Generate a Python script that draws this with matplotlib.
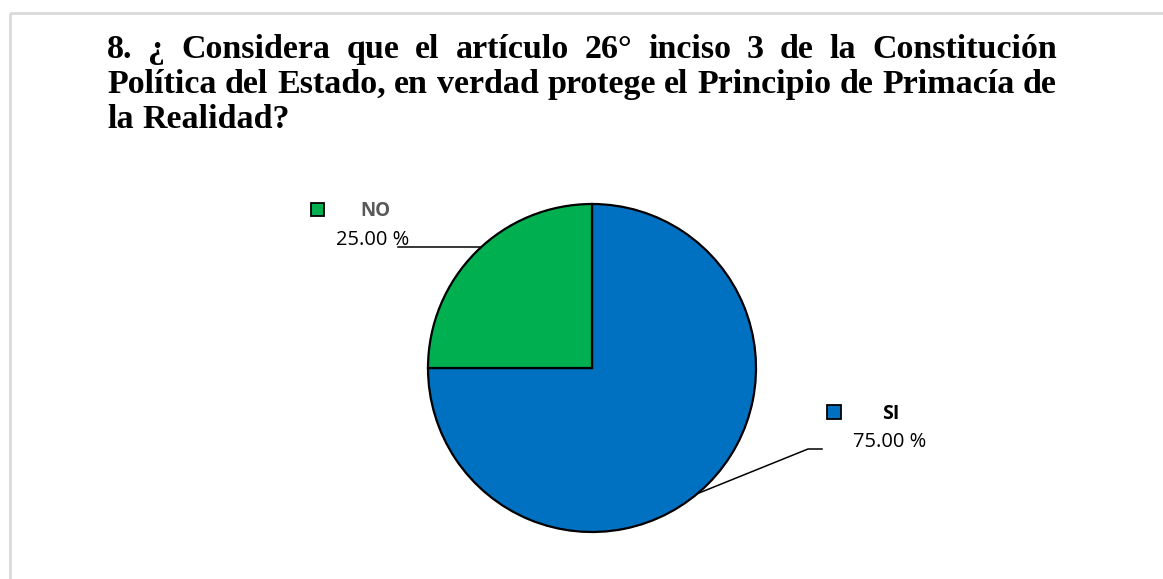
import matplotlib
matplotlib.use("Agg")
import matplotlib.pyplot as plt
import numpy as np

# data
categories = ["SI", "NO"]
values = [75.0, 25.0]
pct_labels = ["75.00 %", "25.00 %"]
colors = ["#0070C0", "#00B050"]
title_lines = [
    "8. ¿ Considera que el artículo 26° inciso 3 de la Constitución",
    "Política del Estado, en verdad protege el Principio de Primacía de",
    "la Realidad?",
]

W, H = 1163, 579


def fx(px):
    return px / W


def fy(py):
    return 1 - py / H


fig = plt.figure(figsize=(W / 100, H / 100), dpi=100)
fig.patch.set_facecolor("white")

# overlay in pixel coordinates for text and leader lines
ov = fig.add_axes([0, 0, 1, 1])
ov.set_xlim(0, W)
ov.set_ylim(H, 0)
ov.axis("off")

# light frame (top and left edge visible)
ov.plot([9.5, W], [12.5, 12.5], color="#d9d9d9", lw=2, solid_capstyle="butt")
ov.plot([9.5, 9.5], [12.5, H], color="#d9d9d9", lw=2, solid_capstyle="butt")

# title, justified
renderer = fig.canvas.get_renderer()
x0, x1 = 107, 1057
baselines = [58, 93, 128]
tfont = dict(family="Liberation Serif", weight="bold", size=24.5)
for i, line in enumerate(title_lines):
    words = line.split(" ")
    texts = [ov.text(0, baselines[i], w, va="baseline", ha="left", **tfont) for w in words]
    widths = [t.get_window_extent(renderer).width for t in texts]
    if i < len(title_lines) - 1:
        gap = (x1 - x0 - sum(widths)) / (len(words) - 1)
    else:
        sp = ov.text(0, 0, "a a", **tfont)
        sp2 = ov.text(0, 0, "aa", **tfont)
        gap = sp.get_window_extent(renderer).width - sp2.get_window_extent(renderer).width
        sp.remove()
        sp2.remove()
    x = x0
    for t, w in zip(texts, widths):
        t.set_x(x)
        x += w + gap

# pie
cx, cy, r = 592, 368, 164
ax = fig.add_axes([fx(cx - r), fy(cy + r), 2 * r / W, 2 * r / H])
wedges, _ = ax.pie(values, colors=colors, startangle=90, counterclock=False,
                   radius=1, wedgeprops=dict(edgecolor="black", linewidth=1.6))
ax.set_xlim(-1, 1)
ax.set_ylim(-1, 1)
ax.axis("off")

# labels with leader lines
lab = {
    "SI": dict(sq=(833.5, 411.5), sqs=14, name=(882, 414), ncol="black", nsize=14,
               pct=(853, 442), path=[(808, 449), (822, 449)], ang_off=-5),
    "NO": dict(sq=(317.5, 209.5), sqs=13, name=(360, 211), ncol="#595959", nsize=13.5,
               pct=(336, 240), path=[(398, 247)], ang_off=-3),
}
for w, cat, pl, col in zip(wedges, categories, pct_labels, colors):
    d = lab[cat]
    mid = np.deg2rad((w.theta1 + w.theta2) / 2 + d["ang_off"])
    ex, ey = cx + r * np.cos(mid), cy - r * np.sin(mid)
    if cat == "NO":
        ey = d["path"][0][1]
        ex = cx - np.sqrt(r ** 2 - (cy - ey) ** 2)
    pts = [(ex, ey)] + d["path"]
    ov.plot([p[0] for p in pts], [p[1] for p in pts], color="black", lw=1.1)
    sx, sy = d["sq"]
    s = d["sqs"]
    ov.add_patch(plt.Rectangle((sx - s / 2, sy - s / 2), s, s, facecolor=col,
                               edgecolor="black", lw=1.3))
    ov.text(d["name"][0], d["name"][1], cat, ha="left", va="center",
            family="Open Sans", weight="bold", size=d["nsize"], color=d["ncol"])
    ov.text(d["pct"][0], d["pct"][1], pl, ha="left", va="center",
            family="Open Sans", size=14.5, color="black")

fig.savefig("out.png", dpi=100, facecolor="white")
